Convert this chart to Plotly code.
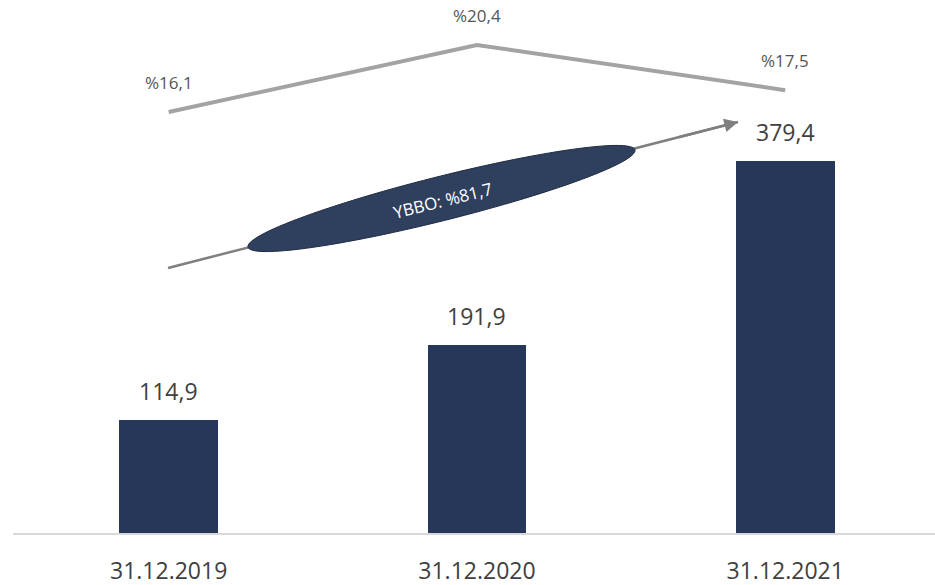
import numpy as np
import plotly.graph_objects as go

categories = ["31.12.2019", "31.12.2020", "31.12.2021"]
bar_values = [114.9, 191.9, 379.4]
bar_labels = ["114,9", "191,9", "379,4"]
ratio_values = [16.1, 20.4, 17.5]
ratio_labels = ["%16,1", "%20,4", "%17,5"]
growth_label = "YBBO: %81,7"

W, H = 935, 585
PL, PR, PT, PB = 13, 935, 10, 533
ML, MT = PL, PT
MR = W - PR
MB = H - PB
PW, PH = PR - PL, PB - PT

BAR_COLOR = "#27375a"
ELLIPSE_COLOR = "#2f405f"
LINE_COLOR = "#a3a3a3"
ARROW_COLOR = "#7f7f7f"
TEXT_COLOR = "#404040"

x_idx = list(range(len(categories)))

fig = go.Figure()
fig.add_trace(go.Bar(
    x=x_idx, y=bar_values, width=0.32,
    marker=dict(color=BAR_COLOR, line=dict(width=0)),
    hoverinfo="skip", showlegend=False,
))
fig.add_trace(go.Scatter(
    x=x_idx, y=ratio_values, yaxis="y2", mode="lines",
    line=dict(color=LINE_COLOR, width=4),
    hoverinfo="skip", showlegend=False,
))

for i, (v, t) in enumerate(zip(bar_values, bar_labels)):
    fig.add_annotation(x=i, y=v, text=t, showarrow=False, yanchor="middle",
                       yshift=29, font=dict(family="Open Sans", size=23, color=TEXT_COLOR))
for i, (v, t) in enumerate(zip(ratio_values, ratio_labels)):
    fig.add_annotation(x=i, y=v, yref="y2", text=t, showarrow=False, yanchor="middle",
                       yshift=30, font=dict(family="Open Sans", size=17, color="#555555"))

def px2paper(px, py):
    return (px - PL) / PW, (PB - py) / PH

sx, sy = px2paper(168, 268)
hx, hy = px2paper(738, 122)
fig.add_shape(type="line", x0=sx, y0=sy, x1=hx, y1=hy, xref="paper", yref="paper",
              line=dict(color=ARROW_COLOR, width=2.5))

cx, cy, a, b = 441.5, 198.5, 199.5, 22.0
ang = np.deg2rad(14.1)
t = np.linspace(0, 2 * np.pi, 120)
ex = cx + a * np.cos(t) * np.cos(ang) + b * np.sin(t) * np.sin(ang)
ey = cy - a * np.cos(t) * np.sin(ang) + b * np.sin(t) * np.cos(ang)
pts = [px2paper(px, py) for px, py in zip(ex, ey)]
path = "M " + " L ".join(f"{p[0]:.5f},{p[1]:.5f}" for p in pts) + " Z"
fig.add_shape(type="path", path=path, xref="paper", yref="paper",
              fillcolor=ELLIPSE_COLOR, line=dict(color="#1f2b40", width=1))

fig.add_annotation(x=hx, y=hy, xref="paper", yref="paper", ax=-60, ay=15.4,
                   axref="pixel", ayref="pixel", text="", showarrow=True,
                   arrowhead=2, arrowsize=1.1, arrowwidth=2.5, arrowcolor=ARROW_COLOR)

tx, ty = px2paper(442, 200)
fig.add_annotation(x=tx, y=ty, xref="paper", yref="paper", text=growth_label,
                   showarrow=False, textangle=-14,
                   font=dict(family="Open Sans", size=17, color="#ffffff"))

y_top = PH / 0.98
px_per_unit2 = (112 - 45) / (20.4 - 16.1)
y2_min = 16.1 - (PB - 112) / px_per_unit2
y2_max = 16.1 + (112 - PT) / px_per_unit2

fig.update_layout(
    width=W, height=H,
    margin=dict(l=ML, r=MR, t=MT, b=MB, pad=0, autoexpand=False),
    paper_bgcolor="white", plot_bgcolor="white",
    bargap=0,
    xaxis=dict(
        tickmode="array", tickvals=x_idx, ticktext=categories,
        range=[-0.505, 2.486], showgrid=False, zeroline=False,
        showline=True, linecolor="#d9d9d9", linewidth=1.5, ticks="",
        ticklabelstandoff=17,
        tickfont=dict(family="Open Sans", size=23, color=TEXT_COLOR),
        fixedrange=True,
    ),
    yaxis=dict(range=[0, y_top], visible=False, showgrid=False, zeroline=False, fixedrange=True),
    yaxis2=dict(range=[y2_min, y2_max], overlaying="y", visible=False,
                showgrid=False, zeroline=False, fixedrange=True),
)

fig.write_html("out.html", config={"displayModeBar": False},
               post_script="document.body.style.margin='0';document.body.style.overflow='hidden';")
